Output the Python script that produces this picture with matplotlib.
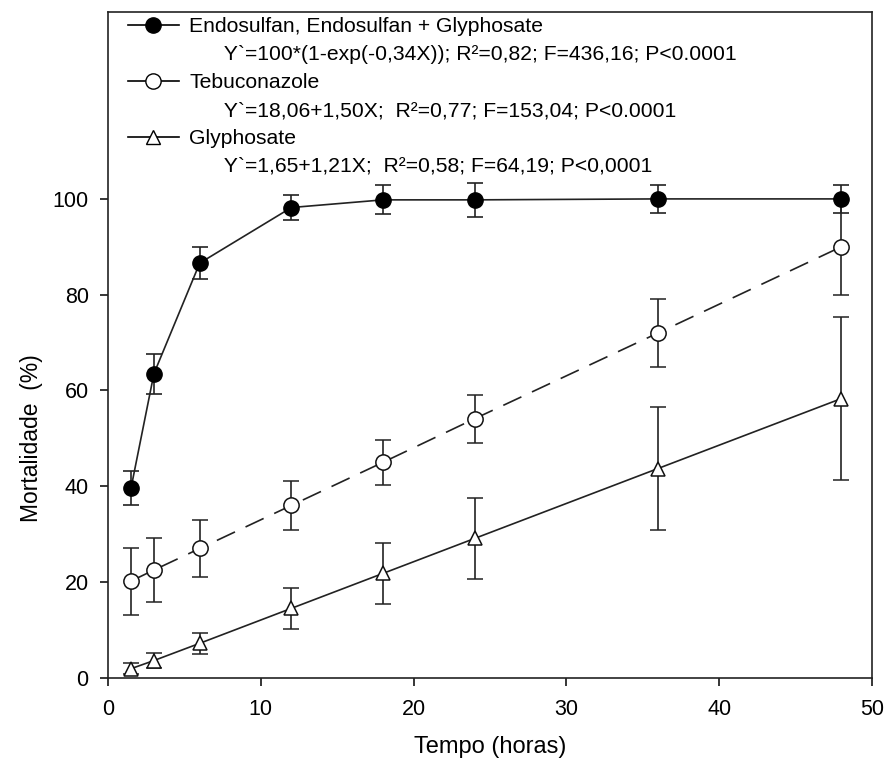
import matplotlib
matplotlib.use('Agg')
import matplotlib.pyplot as plt
from matplotlib.lines import Line2D

plt.rcParams['font.family'] = ['Liberation Sans', 'DejaVu Sans']

# tempo (horas)
tempo = [1.5, 3, 6, 12, 18, 24, 36, 48]

# Endosulfan, Endosulfan + Glyphosate
endo = [39.6, 63.5, 86.6, 98.2, 99.8, 99.8, 100, 100]
endo_err = [3.6, 4.2, 3.3, 2.7, 3.0, 3.5, 3.0, 3.0]

# Tebuconazole
tebu = [20.2, 22.5, 27.0, 36.0, 45.0, 54.1, 72.0, 90.0]
tebu_err = [7.0, 6.6, 6.0, 5.1, 4.7, 5.0, 7.0, 10.0]

# Glyphosate
gly = [1.9, 3.6, 7.2, 14.5, 21.8, 29.1, 43.7, 58.3]
gly_err = [1.2, 1.5, 2.2, 4.3, 6.4, 8.5, 12.9, 17.1]

nomes = ['Endosulfan, Endosulfan + Glyphosate', 'Tebuconazole', 'Glyphosate']
equacoes = ['Y`=100*(1-exp(-0,34X)); R²=0,82; F=436,16; P<0.0001',
            'Y`=18,06+1,50X;  R²=0,77; F=153,04; P<0.0001',
            'Y`=1,65+1,21X;  R²=0,58; F=64,19; P<0,0001']

fig = plt.figure(figsize=(8.86, 7.59), dpi=100)
ax = fig.add_axes([0.122, 0.107, 0.862, 0.877])

cap = 5.8
# Glyphosate - triangulos abertos, linha continua
ax.errorbar(tempo, gly, yerr=gly_err, color='#222222', lw=1.2, elinewidth=1.2,
            capsize=cap, capthick=1.2, marker='^', ms=10, mfc='white',
            mec='#111111', mew=1.1, zorder=2)
# Tebuconazole - circulos abertos, linha tracejada
ax.errorbar(tempo, tebu, yerr=tebu_err, color='#222222', lw=1.2, ls=(0, (12, 7)),
            elinewidth=1.2, capsize=cap, capthick=1.2, marker='o', ms=11,
            mfc='white', mec='#111111', mew=1.1, zorder=3)
# Endosulfan - circulos cheios
ax.errorbar(tempo, endo, yerr=endo_err, color='#222222', lw=1.2, elinewidth=1.2,
            capsize=cap, capthick=1.2, marker='o', ms=11, mfc='black',
            mec='black', zorder=4)

ax.set_xlim(0, 50)
ax.set_ylim(0, 139)
ax.set_xticks([0, 10, 20, 30, 40, 50])
ax.set_yticks([0, 20, 40, 60, 80, 100])
ax.tick_params(direction='out', length=6, width=1.1, labelsize=15.5)
ax.tick_params(axis='y', pad=8)
ax.tick_params(axis='x', pad=9)
for s in ax.spines.values():
    s.set_linewidth(1.2)
    s.set_color('#222222')

# rotulos centrados na faixa dos ticks (0-50, 0-100)
ax.set_xlabel('Tempo (horas)', fontsize=17)
ax.xaxis.set_label_coords(0.5, -0.088)
ax.set_ylabel('Mortalidade  (%)', fontsize=16.5)
ax.yaxis.set_label_coords(-0.085, 50 / 139)

# legenda com as equacoes
handles = [
    Line2D([], [], color='black', lw=1.2, marker='o', ms=11, mfc='black', mec='black'),
    Line2D([], [], ls='none', marker=''),
    Line2D([], [], color='black', lw=1.2, marker='o', ms=11, mfc='white', mec='black'),
    Line2D([], [], ls='none', marker=''),
    Line2D([], [], color='black', lw=1.2, marker='^', ms=10, mfc='white', mec='black'),
    Line2D([], [], ls='none', marker=''),
]
labels = [nomes[0], '      ' + equacoes[0],
          nomes[1], '      ' + equacoes[1],
          nomes[2], '      ' + equacoes[2]]
ax.legend(handles, labels, loc='upper left', bbox_to_anchor=(0.026, 0.992),
          frameon=False, fontsize=15.2, handlelength=2.4, handletextpad=0.5,
          labelspacing=0.42, borderpad=0, borderaxespad=0)

fig.savefig('out.png', dpi=100)
